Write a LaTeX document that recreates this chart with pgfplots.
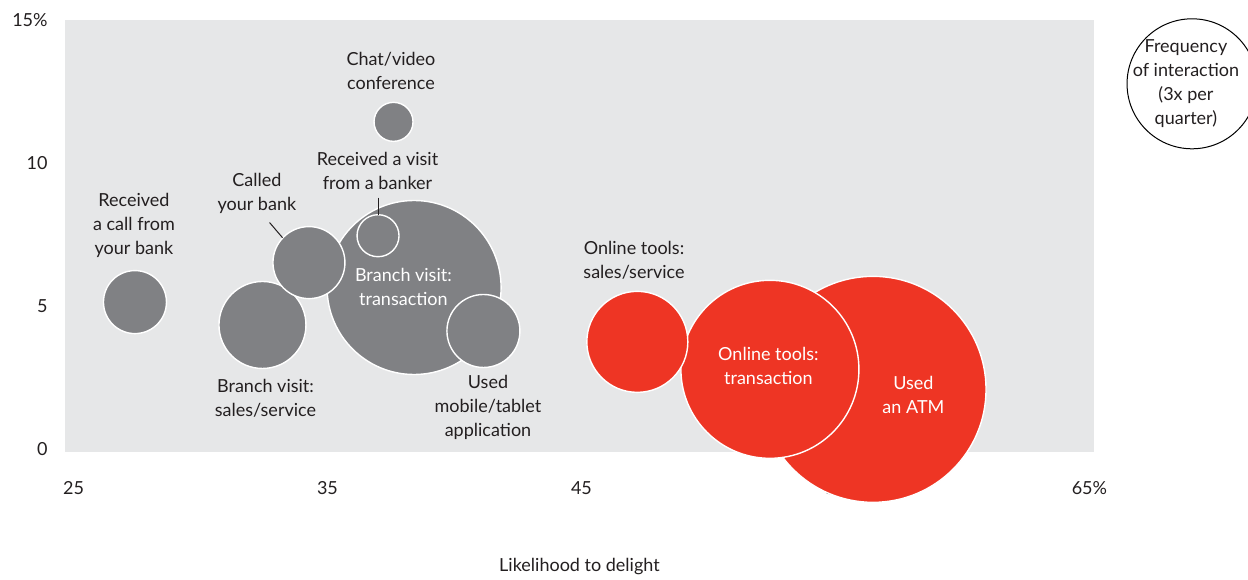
\documentclass[border=0pt]{standalone}
\usepackage{pgfplots}
\pgfplotsset{compat=1.18}
\usepackage{fontspec}
\setmainfont{Lato}
\definecolor{bggray}{HTML}{E6E7E8}
\definecolor{bubgray}{HTML}{808184}
\definecolor{bubred}{HTML}{EE3524}
\definecolor{txt}{HTML}{231F20}

\begin{document}
\begin{tikzpicture}[font=\fontsize{9}{12}\selectfont]
\begin{axis}[
  at={(0,0)}, anchor=south west,
  scale only axis,
  width=514.5pt, height=216pt,
  xmin=24.665, xmax=65.18,
  ymin=-0.1, ymax=15,
  set layers,
  clip=false,
  axis background/.style={fill=bggray},
  axis line style={draw=none},
  major tick length=0pt,
  xtick={25,35,45,55,65},
  xticklabels={25,35,45,55,65\%},
  ytick={0,5,10,15},
  yticklabels={0,5,10,15\%},
  xticklabel style={anchor=center, yshift=-18pt, text=txt},
  yticklabel style={anchor=east, inner sep=0pt, xshift=-8.5pt, text=txt},
  /pgf/number format/assume math mode=true,
]
% bubbles: x, y, radius (pt); larger ones first
\addplot[scatter, only marks, mark=*,
  scatter/use mapped color={draw=white, fill=bubgray},
  mark options={line width=0.7pt},
  visualization depends on={\thisrow{r} \as \rad},
  scatter/@pre marker code/.append style={/tikz/mark size=\rad pt}]
  table {
  x     y     r
  38.41 5.65  43.5
  32.44 4.34  21.75
  41.14 4.13  18.25
  34.27 6.52  18
  27.42 5.14  15.75
  36.99 7.46  10.5
  37.60 11.44 9.75
  };
\addplot[scatter, only marks, mark=*,
  scatter/use mapped color={draw=white, fill=bubred},
  mark options={line width=0.7pt},
  visualization depends on={\thisrow{r} \as \rad},
  scatter/@pre marker code/.append style={/tikz/mark size=\rad pt}]
  table {
  x     y     r
  56.48 2.09  56.5
  52.42 2.79  44.5
  47.20 3.75  25.25
  };

\begin{pgfonlayer}{axis foreground}
% labels
\node[align=center, text=txt] at (axis cs:37.50,13.22) {Chat/video\\conference};
\node[align=center, text=txt] at (axis cs:36.97,9.73) {Received a visit\\from a banker};
\draw[txt, line width=0.5pt] (axis cs:36.99,8.79) -- (axis cs:36.99,8.20);
\node[align=center, text=txt] at (axis cs:32.22,8.93) {Called\\your bank};
\draw[txt, line width=0.5pt] (axis cs:32.72,7.92) -- (axis cs:33.23,7.39);
\node[align=center, text=txt] at (axis cs:27.38,7.81) {Received\\a call from\\your bank};
\node[align=center, text=white] at (axis cs:37.99,5.67) {Branch visit:\\transaction};
\node[align=center, text=txt] at (axis cs:32.56,1.78) {Branch visit:\\sales/service};
\node[align=center, text=txt] at (axis cs:41.32,1.46) {Used\\mobile/tablet\\application};
\node[align=center, text=txt] at (axis cs:47.07,6.59) {Online tools:\\sales/service};
\node[align=center, text=white] at (axis cs:52.36,2.90) {Online tools:\\transaction};
\node[align=center, text=white] at (axis cs:58.07,1.88) {Used\\an ATM};

% size key
\draw[black, line width=0.5pt] (axis cs:69.04,12.77) circle[radius=32.5pt];
\node[align=center, text=txt] at (axis cs:68.8,12.77) {Frequency\\of interaction\\(3x per\\quarter)};

% axis title
\node[text=txt] at ([yshift=-57.5pt]rel axis cs:0.5,0) {Likelihood to delight};
\end{pgfonlayer}
\end{axis}
\pgfresetboundingbox
\useasboundingbox (-32.5pt,-63.5pt) rectangle (591.5pt,226pt);
\end{tikzpicture}
\end{document}
